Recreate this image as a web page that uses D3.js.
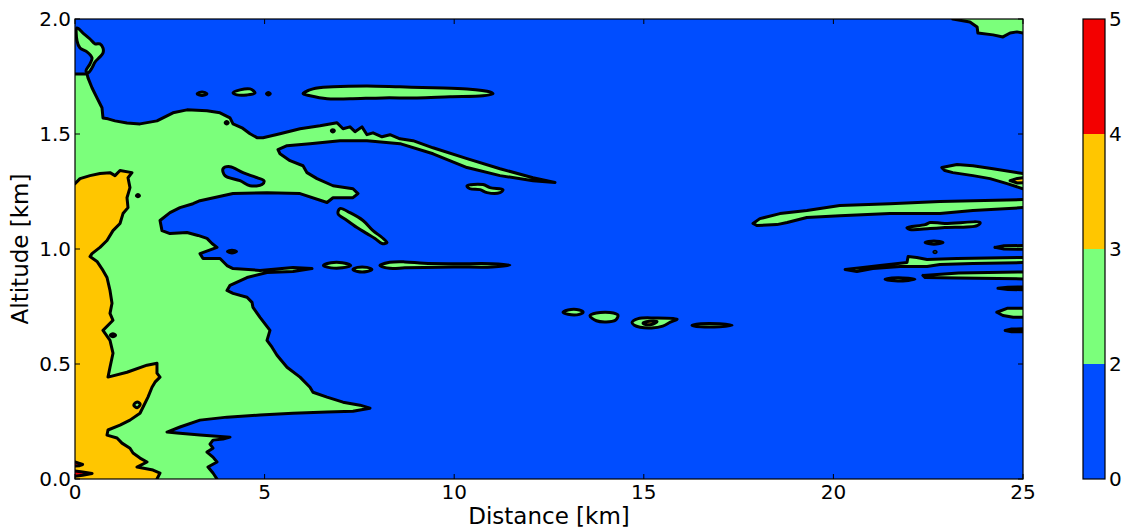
<!DOCTYPE html>
<html><head><meta charset="utf-8">
<script src="https://cdn.jsdelivr.net/npm/d3@7"></script>
<style>body{margin:0;background:#fff;} text{font-family:"DejaVu Sans",sans-serif;}</style>
</head><body><svg id="c" width="1128" height="531"></svg>
<script>
// ---- data (Distance km, Altitude km) ----
const xTicks = [0,5,10,15,20,25];
const yTicks = [0.0,0.5,1.0,1.5,2.0];
const levels = [0,2,3,4,5];
const levelColors = ["#004dff","#7bff7b","#ffc600","#f30000"];

const mainGreen = [[0,1.761],[0.316,1.761],[0.343,1.744],[0.448,1.701],[0.58,1.657],[0.712,1.614],[0.738,1.57],[0.87,1.566],[1.055,1.557],[1.371,1.548],[1.714,1.544],[2.162,1.557],[2.584,1.592],[2.954,1.605],[3.481,1.601],[3.824,1.592],[4.088,1.57],[4.167,1.544],[4.404,1.527],[4.615,1.501],[4.8,1.484],[4.958,1.484],[5.406,1.501],[5.934,1.523],[6.461,1.536],[6.909,1.549],[7.068,1.523],[7.252,1.531],[7.384,1.51],[7.568,1.531],[7.7,1.497],[7.859,1.505],[8.096,1.488],[8.307,1.497],[8.571,1.479],[8.914,1.471],[9.441,1.44],[10.338,1.393],[11.208,1.349],[12.078,1.31],[12.658,1.289],[12.078,1.297],[11.208,1.319],[10.338,1.354],[9.441,1.414],[8.571,1.458],[7.7,1.471],[6.988,1.471],[6.197,1.458],[5.591,1.449],[5.353,1.432],[5.406,1.414],[5.67,1.384],[6.013,1.362],[6.118,1.332],[6.382,1.306],[6.804,1.275],[7.331,1.262],[7.463,1.241],[7.331,1.223],[6.804,1.223],[6.646,1.202],[5.934,1.241],[5.063,1.245],[4.167,1.241],[3.296,1.21],[3.112,1.197],[2.769,1.18],[2.505,1.158],[2.242,1.124],[2.294,1.08],[2.505,1.067],[2.954,1.072],[3.244,1.059],[3.481,1.046],[3.613,1.024],[3.745,1.007],[3.296,0.98],[3.376,0.959],[3.824,0.959],[4.008,0.928],[4.167,0.915],[4.879,0.907],[5.749,0.92],[6.25,0.915],[5.749,0.902],[5.063,0.898],[4.536,0.876],[4.088,0.842],[4.008,0.82],[4.167,0.807],[4.536,0.79],[4.668,0.768],[4.694,0.746],[4.879,0.703],[5.142,0.646],[5.063,0.603],[5.195,0.573],[5.327,0.538],[5.591,0.486],[5.934,0.443],[6.197,0.399],[6.276,0.377],[6.646,0.356],[7.068,0.334],[7.516,0.321],[7.78,0.308],[7.331,0.295],[6.646,0.291],[5.749,0.286],[4.879,0.278],[4.008,0.269],[3.296,0.256],[2.769,0.226],[2.426,0.204],[2.69,0.2],[3.296,0.191],[4.088,0.182],[3.903,0.174],[3.639,0.169],[3.56,0.152],[3.639,0.134],[3.481,0.117],[3.639,0.095],[3.745,0.074],[3.507,0.052],[3.639,0.026],[3.745,0],[0,0]];

const pinkie = [[0.053,1.961],[0.211,1.939],[0.396,1.913],[0.527,1.892],[0.659,1.892],[0.738,1.874],[0.738,1.852],[0.633,1.831],[0.527,1.813],[0.448,1.787],[0.343,1.766],[0.29,1.774],[0.396,1.805],[0.448,1.831],[0.316,1.857],[0.132,1.874],[0.053,1.905]];

const blueHole = [[3.903,1.349],[4.088,1.358],[4.43,1.332],[4.8,1.31],[4.984,1.297],[4.931,1.28],[4.615,1.275],[4.351,1.297],[3.956,1.319]];

const orangeCore = [[0,1.284],[0.132,1.306],[0.396,1.319],[0.659,1.328],[0.923,1.332],[1.055,1.319],[1.187,1.341],[1.503,1.332],[1.398,1.31],[1.45,1.267],[1.371,1.223],[1.398,1.18],[1.266,1.154],[1.187,1.111],[1.002,1.08],[0.844,1.037],[0.659,1.007],[0.448,0.98],[0.396,0.967],[0.58,0.946],[0.738,0.907],[0.844,0.876],[0.923,0.82],[0.976,0.764],[0.923,0.72],[1.002,0.69],[0.738,0.646],[0.923,0.603],[1.002,0.547],[0.923,0.486],[0.87,0.443],[1.371,0.464],[1.899,0.495],[2.162,0.503],[2.162,0.46],[2.242,0.443],[2.11,0.421],[2.031,0.399],[1.925,0.356],[1.793,0.312],[1.714,0.286],[1.45,0.256],[1.187,0.234],[0.87,0.213],[0.844,0.191],[1.108,0.178],[1.239,0.156],[1.45,0.134],[1.53,0.113],[1.714,0.091],[1.899,0.074],[1.635,0.052],[2.057,0.039],[2.242,0.026],[2.162,0],[0,0]];

// small closed green islands (smooth)
const lensTop = [[6.013,1.675],[6.276,1.696],[6.804,1.705],[7.7,1.709],[8.571,1.705],[9.441,1.701],[10.338,1.696],[10.944,1.683],[11.023,1.675],[10.759,1.666],[9.889,1.662],[9.019,1.657],[8.122,1.657],[7.252,1.653],[6.646,1.653],[6.197,1.666]];
const lensSmallTop = [[4.167,1.679],[4.351,1.692],[4.615,1.696],[4.747,1.679],[4.536,1.67],[4.272,1.67]];
const streakD = [[6.988,1.176],[7.252,1.158],[7.595,1.124],[7.859,1.08],[8.096,1.05],[8.228,1.028],[8.096,1.024],[7.911,1.046],[7.7,1.067],[7.437,1.093],[7.173,1.124],[6.936,1.154]];
const lensE = [[10.338,1.275],[10.759,1.28],[10.944,1.267],[11.287,1.258],[11.208,1.245],[10.865,1.245],[10.68,1.258],[10.417,1.262]];
const lensF1 = [[6.55,0.928],[6.75,0.94],[7.05,0.94],[7.27,0.928],[7.05,0.918],[6.75,0.918]];
const lensF2 = [[7.33,0.911],[7.45,0.92],[7.7,0.92],[7.83,0.911],[7.7,0.902],[7.45,0.902]];
const lensF3 = [[8.04,0.928],[8.3,0.942],[8.7,0.944],[9.2,0.938],[10.0,0.936],[11.0,0.936],[11.47,0.93],[11.0,0.922],[10.0,0.922],[9.2,0.92],[8.7,0.918],[8.3,0.916]];
const lensG1 = [[12.87,0.725],[13.0,0.735],[13.3,0.735],[13.4,0.726],[13.3,0.716],[13.0,0.716]];
const lensG2 = [[13.58,0.71],[13.75,0.722],[14.2,0.722],[14.32,0.712],[14.25,0.69],[14.0,0.683],[13.75,0.688]];
const lensG3 = [[14.69,0.68],[14.85,0.697],[15.3,0.7],[15.88,0.695],[15.7,0.682],[15.5,0.665],[15.2,0.657],[14.9,0.66],[14.75,0.668]];
const lensG4 = [[16.27,0.668],[16.5,0.675],[17.0,0.675],[17.33,0.668],[17.0,0.662],[16.5,0.662]];
const lensH4 = [[21.94,1.093],[22.42,1.106],[22.55,1.115],[22.94,1.111],[23.87,1.115],[23.79,1.102],[22.94,1.093],[22.55,1.089],[22.02,1.085]];
const lensH5 = [[22.42,1.028],[22.65,1.035],[22.89,1.028],[22.65,1.021]];
const lensH9 = [[21.36,0.868],[21.7,0.875],[22.15,0.868],[21.7,0.861]];
const loopOrange = [[1.55,0.321],[1.64,0.335],[1.72,0.325],[1.64,0.31]];
const dots = [[[3.22,1.675],[3.35,1.683],[3.48,1.675],[3.35,1.667]],[[5.05,1.675],[5.1,1.68],[5.15,1.675],[5.1,1.67]],[[3.96,1.549],[4.0,1.554],[4.04,1.549],[4.0,1.544]],[[6.76,1.514],[6.8,1.519],[6.84,1.514],[6.8,1.509]],[[1.62,1.232],[1.66,1.237],[1.7,1.232],[1.66,1.227]],[[4.02,0.989],[4.14,0.995],[4.26,0.989],[4.14,0.983]],[[0.93,0.625],[1.0,0.631],[1.07,0.625],[1.0,0.619]],[[22.65,0.987],[22.68,0.99],[22.71,0.987],[22.68,0.984]]];

// edge-touching green islands (right side)
const rightTop = [[23.15,2],[23.6,1.987],[23.79,1.965],[23.81,1.939],[24.21,1.931],[24.47,1.922],[24.66,1.939],[24.84,1.944],[25,1.939],[25,2]];
const rightH2 = [[22.86,1.354],[23.26,1.367],[23.68,1.362],[24.21,1.349],[25,1.328],[25,1.262],[24.58,1.284],[24.13,1.306],[23.68,1.319],[23.15,1.332],[22.94,1.341]];
const rightH3 = [[17.88,1.111],[18.06,1.132],[18.59,1.154],[19.3,1.167],[20.17,1.189],[21.49,1.197],[22.81,1.206],[25,1.215],[25,1.18],[23.68,1.167],[22.81,1.154],[21.49,1.154],[20.17,1.145],[19.3,1.137],[18.78,1.115],[18.51,1.106],[17.99,1.102]];
const rightH6 = [[24.26,1.007],[24.5,1.014],[25,1.015],[25,0.999],[24.5,1.0]];
const rightH7 = [[20.31,0.911],[20.78,0.92],[21.23,0.928],[21.94,0.941],[21.97,0.967],[22.2,0.963],[22.47,0.954],[23.26,0.959],[25,0.963],[25,0.941],[23.68,0.937],[22.81,0.933],[22.47,0.924],[21.76,0.924],[21.04,0.915],[20.62,0.902]];
const rightH8 = [[22.36,0.885],[23.3,0.896],[25,0.9],[25,0.87],[23.3,0.874],[22.42,0.876]];
const rightH10 = [[24.34,0.829],[24.6,0.834],[25,0.835],[25,0.823],[24.6,0.824]];
const rightH11 = [[24.31,0.725],[24.58,0.742],[25,0.742],[25,0.703],[24.74,0.703],[24.47,0.711]];
const rightH12 = [[24.53,0.646],[24.7,0.652],[25,0.653],[25,0.64],[24.7,0.64]];

const orangeBits = [[[14.98,0.678],[15.15,0.686],[15.35,0.684],[15.2,0.672],[15.05,0.672]]];
const orangeEdge = [[[24.66,1.297],[24.85,1.307],[25,1.31],[25,1.288],[24.85,1.287]]];
const redEdge = [[[0,0.074],[0.12,0.068],[0.2,0.063],[0.12,0.058],[0,0.056]],[[0,0.035],[0.2,0.03],[0.45,0.024],[0.2,0.016],[0,0.012]]];

// ---- drawing ----
const svg = d3.select("#c");
const L=75,R=1023,T=19,B=479;
const x = d3.scaleLinear().domain([0,25]).range([L,R]);
const y = d3.scaleLinear().domain([0,2]).range([B,T]);

svg.append("defs").append("clipPath").attr("id","clip").append("rect")
  .attr("x",L).attr("y",T).attr("width",R-L).attr("height",B-T);
const g = svg.append("g").attr("clip-path","url(#clip)");

g.append("rect").attr("x",x(0)).attr("y",y(2)).attr("width",x(25)-x(0)).attr("height",y(0)-y(2)).attr("fill",levelColors[0]);

const lw = 3;
const smoothLine = d3.line().x(d=>x(d[0])).y(d=>y(d[1])).curve(d3.curveCatmullRomClosed.alpha(0.5));
const linLine = d3.line().x(d=>x(d[0])).y(d=>y(d[1]));
function onEdge(a,b){
  return (a[0]===0&&b[0]===0)||(a[0]===25&&b[0]===25)||(a[1]===0&&b[1]===0)||(a[1]===2&&b[1]===2);
}
function edgeShape(pts,color){
  g.append("path").attr("d",linLine(pts)+"Z").attr("fill",color);
  const p = d3.path(); let started=false; const n=pts.length;
  for(let i=0;i<n;i++){
    const a=pts[i], b=pts[(i+1)%n];
    if(onEdge(a,b)){started=false;continue;}
    if(!started){p.moveTo(x(a[0]),y(a[1]));started=true;}
    p.lineTo(x(b[0]),y(b[1]));
  }
  g.append("path").attr("d",p.toString()).attr("fill","none").attr("stroke","#000")
    .attr("stroke-width",lw).attr("stroke-linejoin","round").attr("stroke-linecap","round");
}
function smoothShape(pts,color){
  g.append("path").attr("d",smoothLine(pts)).attr("fill",color).attr("stroke","#000")
    .attr("stroke-width",lw).attr("stroke-linejoin","round");
}

edgeShape(mainGreen, levelColors[1]);
smoothShape(pinkie, levelColors[1]);
smoothShape(blueHole, levelColors[0]);
edgeShape(orangeCore, levelColors[2]);
smoothShape(loopOrange, levelColors[1]);
[lensTop,lensSmallTop,streakD,lensE,lensF1,lensF2,lensF3,lensG1,lensG2,lensG3,lensG4,lensH4,lensH5,lensH9].forEach(s=>smoothShape(s,levelColors[1]));
dots.forEach(s=>smoothShape(s,levelColors[1]));
[rightTop,rightH2,rightH3,rightH6,rightH7,rightH8,rightH10,rightH11,rightH12].forEach(s=>edgeShape(s,levelColors[1]));
orangeBits.forEach(s=>smoothShape(s,levelColors[2]));
orangeEdge.forEach(s=>edgeShape(s,levelColors[2]));
redEdge.forEach(s=>edgeShape(s,levelColors[3]));

// frame
svg.append("rect").attr("x",L).attr("y",T).attr("width",R-L).attr("height",B-T)
  .attr("fill","none").attr("stroke","#000").attr("stroke-width",1.2);

// ticks (inward, all sides)
const tl=5;
const ax = svg.append("g");
xTicks.forEach(t=>{
  ax.append("line").attr("x1",x(t)).attr("x2",x(t)).attr("y1",B).attr("y2",B-tl).attr("stroke","#000");
  ax.append("line").attr("x1",x(t)).attr("x2",x(t)).attr("y1",T).attr("y2",T+tl).attr("stroke","#000");
  ax.append("text").attr("x",x(t)).attr("y",B+20).attr("text-anchor","middle").attr("font-size",20).text(t);
});
yTicks.forEach(t=>{
  ax.append("line").attr("x1",L).attr("x2",L+tl).attr("y1",y(t)).attr("y2",y(t)).attr("stroke","#000");
  ax.append("line").attr("x1",R).attr("x2",R-tl).attr("y1",y(t)).attr("y2",y(t)).attr("stroke","#000");
  ax.append("text").attr("x",L-4).attr("y",y(t)).attr("dy","0.36em").attr("text-anchor","end").attr("font-size",20).text(d3.format(".1f")(t));
});
svg.append("text").attr("x",(L+R)/2).attr("y",524).attr("text-anchor","middle").attr("font-size",23).text("Distance [km]");
svg.append("text").attr("transform","translate(28,"+((T+B)/2)+") rotate(-90)").attr("text-anchor","middle").attr("font-size",23).text("Altitude [km]");

// colorbar
const cbX=1083, cbW=22;
const cy = d3.scaleLinear().domain([0,levels.length-1]).range([B,T]);
for(let i=0;i<levels.length-1;i++){
  svg.append("rect").attr("x",cbX).attr("y",cy(i+1)).attr("width",cbW).attr("height",cy(i)-cy(i+1)).attr("fill",levelColors[i]);
}
svg.append("rect").attr("x",cbX).attr("y",T).attr("width",cbW).attr("height",B-T).attr("fill","none").attr("stroke","#000").attr("stroke-width",1.2);
levels.forEach((lv,i)=>{
  svg.append("text").attr("x",cbX+cbW+4).attr("y",cy(i)).attr("dy","0.36em").attr("font-size",20).text(lv);
});
</script></body></html>
